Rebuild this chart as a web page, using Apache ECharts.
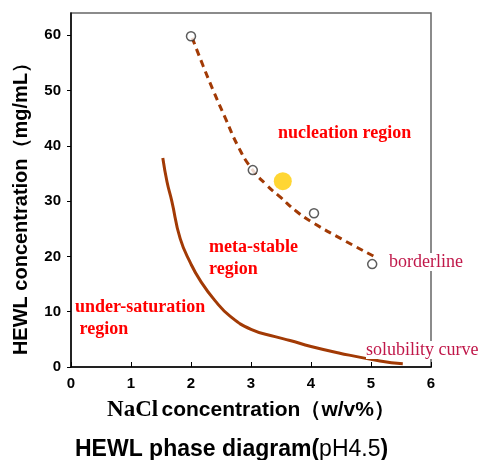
<!DOCTYPE html>
<html><head><meta charset="utf-8">
<script src="https://cdn.jsdelivr.net/npm/echarts@6/dist/echarts.min.js"></script>
<style>html,body{margin:0;padding:0;background:#fff}#c{width:479px;height:460px}</style>
</head><body><div id="c"></div>
<script>
// Solubility curve (NaCl w/v%, HEWL mg/mL)
const solubilityCurve = [[1.53,37.8],[1.6,33.5],[1.68,30],[1.82,23.2],[2.0,18.6],[2.15,15.7],[2.4,12],[2.65,9.2],[3.0,6.8],[3.4,5.5],[3.65,4.8],[4.0,3.7],[4.48,2.5],[5.15,1.1],[5.53,0.6]];
// Borderline (dashed) curve
const borderlineCurve = [[2.02,59.5],[2.2,54.5],[2.37,50],[2.58,44.8],[2.78,40],[3.0,36],[3.25,33],[3.5,30.6],[3.75,28.2],[4.0,26.3],[4.5,23.2],[5.05,20.0]];
// Measured borderline points (open circles)
const borderlinePoints = [[2.0,59.8],[3.03,35.6],[4.05,27.8],[5.02,18.6]];
// Crystallization condition (yellow dot)
const conditionPoint = [[3.53,33.6]];
const xTicks = [0,1,2,3,4,5,6];
const yTicks = [0,10,20,30,40,50,60];

const brown = '#a23a05';
const chart = echarts.init(document.getElementById('c'));
chart.setOption({
  animation: false,
  title: {
    text: '{b|HEWL phase diagram(}{n|pH4.5}{b|)}',
    left: 70, top: 433,
    textStyle: { rich: {
      b: { fontFamily: 'Liberation Sans', fontWeight: 'bold', fontSize: 23, color: '#000' },
      n: { fontFamily: 'Liberation Sans', fontWeight: 'normal', fontSize: 23, color: '#000' }
    }}
  },
  grid: { left: 71, right: 48, top: 13, bottom: 93, show: true, borderColor: '#666', borderWidth: 1.5, backgroundColor: 'transparent' },
  xAxis: {
    type: 'value', min: 0, max: 6, interval: 1,
    name: '{a|NaCl} {b|concentration（w/v%）}',
    nameLocation: 'middle', nameGap: 32,
    nameTextStyle: { rich: {
      a: { fontFamily: 'Liberation Serif', fontWeight: 'bold', fontSize: 23, color: '#000' },
      b: { fontFamily: 'Liberation Sans', fontWeight: 'bold', fontSize: 21, color: '#000' }
    }},
    axisLine: { lineStyle: { color: '#000', width: 1.5 } },
    axisTick: { inside: true, length: 5, lineStyle: { color: '#000' }, customValues: xTicks },
    axisLabel: { customValues: xTicks, margin: 9, fontFamily: 'Liberation Sans', fontWeight: 'bold', fontSize: 15, color: '#000' },
    splitLine: { show: false }
  },
  yAxis: {
    type: 'value', min: 0, max: 64, interval: 10,
    name: 'HEWL concentration（mg/mL）',
    nameLocation: 'middle', nameGap: 40,
    nameTextStyle: { fontFamily: 'Liberation Sans', fontWeight: 'bold', fontSize: 20, color: '#000', padding: [0, 28, 0, 0] },
    axisLine: { lineStyle: { color: '#000', width: 1.5 } },
    axisTick: { inside: false, length: 4, lineStyle: { color: '#000' }, customValues: yTicks },
    axisLabel: { customValues: yTicks, margin: 10, fontFamily: 'Liberation Sans', fontWeight: 'bold', fontSize: 15, color: '#000' },
    splitLine: { show: false }
  },
  series: [
    { type: 'line', data: solubilityCurve, smooth: true, showSymbol: false, lineStyle: { color: brown, width: 3 }, z: 3 },
    { type: 'line', data: borderlineCurve, smooth: true, showSymbol: false, lineStyle: { color: brown, width: 3, type: [7,5] }, z: 3 },
    { type: 'scatter', data: borderlinePoints, symbol: 'circle', symbolSize: 9, itemStyle: { color: '#fff', borderColor: '#333', borderWidth: 1.5 }, z: 4 },
    { type: 'scatter', data: conditionPoint, symbol: 'circle', symbolSize: 18, itemStyle: { color: '#ffcc00' }, z: 4 }
  ],
  graphic: [
    { type: 'text', left: 278, top: 124, z: 10, style: { text: 'nucleation region', font: 'bold 18px "Liberation Serif"', fill: '#ff0000' } },
    { type: 'text', left: 209, top: 236, z: 10, style: { text: 'meta-stable\nregion', font: 'bold 18px "Liberation Serif"', fill: '#ff0000', lineHeight: 22 } },
    { type: 'text', left: 75, top: 296, z: 10, style: { text: 'under-saturation\n region', font: 'bold 18px "Liberation Serif"', fill: '#ff0000', lineHeight: 22 } },
    { type: 'text', left: 389, top: 253, z: 10, style: { text: 'borderline', font: '18px "Liberation Serif"', fill: '#c0184a', backgroundColor: '#fff' } },
    { type: 'text', left: 366, top: 341, z: 10, style: { text: 'solubility curve', font: '18px "Liberation Serif"', fill: '#c0184a', backgroundColor: '#fff' } }
  ]
});
</script></body></html>
